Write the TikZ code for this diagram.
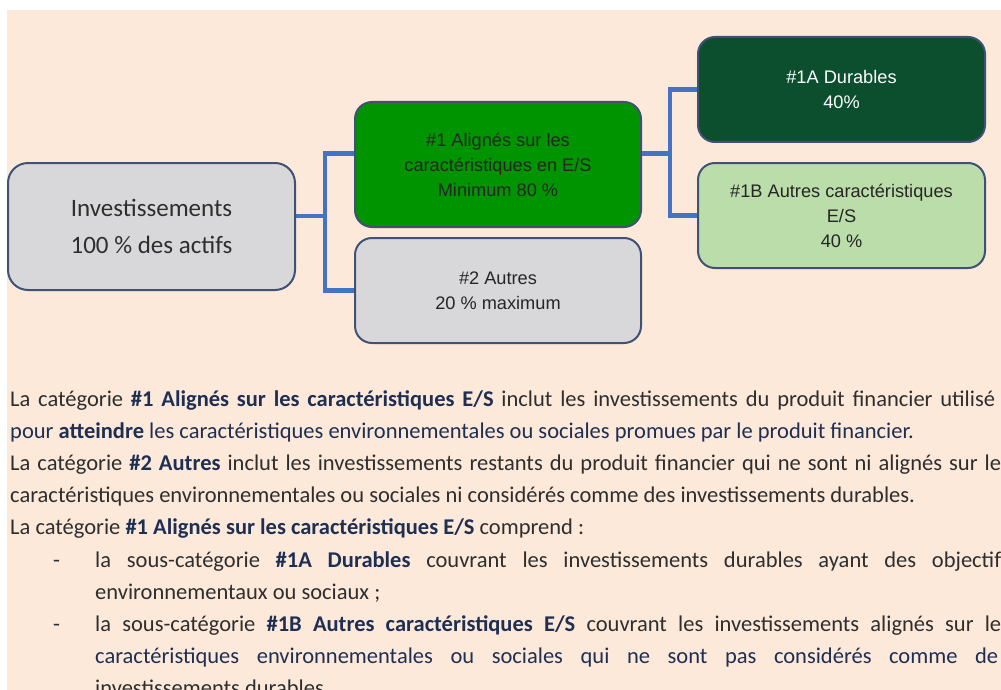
\documentclass[tikz,border=0pt]{standalone}
\usepackage{fontspec}
\setmainfont{Carlito}
\newfontfamily\arialfont{Liberation Sans}
\usetikzlibrary{positioning}

\definecolor{peach}{HTML}{FDE9DA}
\definecolor{boxgray}{HTML}{D8D8DA}
\definecolor{boxline}{HTML}{3F5275}
\definecolor{brightgreen}{HTML}{009400}
\definecolor{darkgreen}{HTML}{0B4F2E}
\definecolor{lightgreen}{HTML}{BBDDAA}
\definecolor{linkblue}{HTML}{4472C4}
\definecolor{bodytext}{HTML}{2E2E2E}
\definecolor{navy}{HTML}{1F2F52}

\tikzset{
  category/.style={draw=boxline, line width=2pt, rounded corners=17pt, align=center,
    minimum width=286pt, minimum height=105pt, inner sep=0pt,
    font=\arialfont\fontsize{18.2}{25}\selectfont, text=black!85},
  link/.style={draw=linkblue, line width=4.5pt},
  bodyline/.style={anchor=base west, inner sep=0pt, text=bodytext,
    font=\fontsize{22.5}{32}\selectfont},
}
\newcommand{\hl}[1]{\textbf{\color{navy}#1}}

\begin{document}
\begin{tikzpicture}[x=1pt,y=-1pt]
		\useasboundingbox (0,0) rectangle (1001,690);
		\clip (0,0) rectangle (1001,690);
		\fill[white] (0,0) rectangle (1001,690);
		\fill[peach] (7,10) rectangle (1001,690);

		\node[category, fill=boxgray, minimum width=287pt, minimum height=127pt, rounded corners=20pt,
			font=\fontsize{25}{37}\selectfont, text=bodytext] (invest) at (151.5,226.5)
			{Investissements\\100 \% des actifs};
		\node[category, fill=brightgreen, minimum height=125pt] (aligned) at (498,164.5)
			{\#1 Alignés sur les\\caractéristiques en E/S\\Minimum 80 \%};
		\node[category, fill=boxgray] (other) at (498,290.5)
			{\#2 Autres\\20 \% maximum};
		\node[category, fill=darkgreen, minimum width=287pt, text=white] (sustainable) at (841.5,89.5)
			{\#1A Durables\\40\%};
		\node[category, fill=lightgreen, minimum width=287pt] (otherES) at (841.5,215.5)
			{\#1B Autres caractéristiques\\E/S\\40 \%};

		\coordinate (split1) at (325,216);
		\coordinate (split2) at (670,153.5);
		\draw[link] ([yshift=10.5pt]invest.east) -- (split1);
		\draw[link] ([yshift=11pt]aligned.west) -| (split1) |- (other.west);
		\draw[link] ([yshift=11pt]aligned.east) -- (split2);
		\draw[link] (sustainable.west) -| (split2) |- (otherES.west);

		\node[bodyline] (line1) at (10,406) {\makebox[985pt][s]{La catégorie \hl{\#1 Alignés sur les caractéristiques E/S} inclut les investissements du produit financier utilisé}};
		\node[bodyline, text=navy] (line2) at (10,438.2) {pour \hl{atteindre} les caractéristiques environnementales ou sociales promues par le produit financier.};
		\node[bodyline] (line3) at (10,470.4) {\makebox[991pt][s]{La catégorie \hl{\#2 Autres} inclut les investissements restants du produit financier qui ne sont ni alignés sur le}};
		\node[bodyline] (line4) at (10,502.6) {caractéristiques environnementales ou sociales ni considérés comme des investissements durables.};
		\node[bodyline] (line5) at (10,534.8) {La catégorie \hl{\#1 Alignés sur les caractéristiques E/S} comprend :};
		\node[bodyline] (dash1) at (53,567) {-};
		\node[bodyline] (line6) at (95,567) {\makebox[906pt][s]{la sous-catégorie \hl{\#1A Durables} couvrant les investissements durables ayant des objectif}};
		\node[bodyline] (line7) at (95,599.2) {environnementaux ou sociaux ;};
		\node[bodyline] (dash2) at (53,631.4) {-};
		\node[bodyline] (line8) at (95,631.4) {\makebox[906pt][s]{la sous-catégorie \hl{\#1B Autres caractéristiques E/S} couvrant les investissements alignés sur le}};
		\node[bodyline, text=navy] (line9) at (95,663.6) {\makebox[903pt][s]{caractéristiques environnementales ou sociales qui ne sont pas considérés comme de}};
		\node[bodyline] (line10) at (95,695.8) {investissements durables.};
	\end{tikzpicture}
\end{document}
